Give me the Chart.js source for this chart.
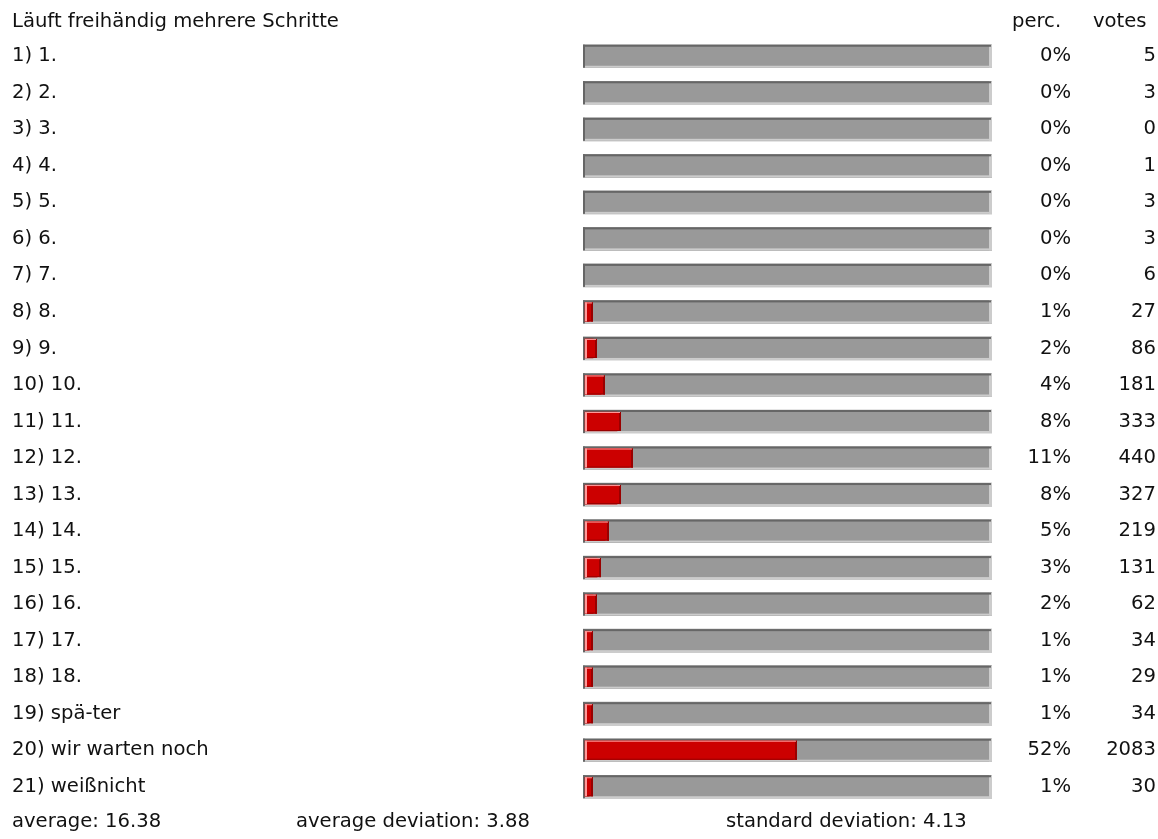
<!DOCTYPE html>
<html>
<head>
<meta charset="utf-8">
<script src="https://cdn.jsdelivr.net/npm/chart.js@4"></script>
<style>
  html, body { margin:0; padding:0; background:#fff; }
  #wrap { position:relative; width:1158px; height:839px; }
</style>
</head>
<body>
<div id="wrap"><canvas id="c"></canvas></div>
<script>
/* ====== dados ====== */
const titulo = "Läuft freihändig mehrere Schritte";
const rotulos = [
  "1) 1.", "2) 2.", "3) 3.", "4) 4.", "5) 5.", "6) 6.", "7) 7.", "8) 8.", "9) 9.",
  "10) 10.", "11) 11.", "12) 12.", "13) 13.", "14) 14.", "15) 15.", "16) 16.",
  "17) 17.", "18) 18.", "19) spä-ter", "20) wir warten noch", "21) weißnicht"
];
const percentuais = [0,0,0,0,0,0,0,1,2,4,8,11,8,5,3,2,1,1,1,52,1];
const votos = [5,3,0,1,3,3,6,27,86,181,333,440,327,219,131,62,34,29,34,2083,30];
const rodape = ["average: 16.38", "average deviation: 3.88", "standard deviation: 4.13"];
const faixa = [-0.5, 101.75]; // trilho cinza atrás das barras

const FONTE = "19.6px 'DejaVu Sans', Verdana, sans-serif";
const COR_TEXTO = "#111111";

/* ====== plugin: bordas em relevo ====== */
const relevo = {
  id: "relevo",
  afterDatasetDraw(chart, args){
    const ctx = chart.ctx;
    const trilho = args.meta.index === 1;
    ctx.save();
    args.meta.data.forEach((el)=>{
      const {x, y, base, height} = el.getProps(["x","y","base","height"], true);
      if(x == null || isNaN(x)) return;
      let l = Math.min(x, base), r = Math.max(x, base);
      if(r - l < 0.5) return;
      const t = y - height/2, b = y + height/2;
      if(trilho){
        ctx.fillStyle = "#cccccc";           // claro: baixo / direita
        ctx.fillRect(l, b-2, r-l, 2);
        ctx.fillRect(r-3, t, 3, b-t);
        ctx.fillStyle = "#666666";           // escuro: topo / esquerda
        ctx.fillRect(l, t, r-l-1, 2);
        ctx.fillRect(l, t, 2, b-t);
      } else {
        // ponta da barra (pequeno acréscimo como no original)
        ctx.fillStyle = "#cc0000";
        ctx.fillRect(r, t, 4, b-t);
        r += 4;
        ctx.fillStyle = "#990000";
        ctx.fillRect(l, b-1, r-l, 1);
        ctx.fillRect(r-2, t, 2, b-t);
        ctx.fillStyle = "#ff9999";
        ctx.fillRect(l, t, r-l-1, 1);
        ctx.fillRect(l, t, 2, b-t);
      }
    });
    ctx.restore();
  }
};

/* ====== plugin: textos (título, colunas, rodapé) ====== */
const textos = {
  id: "textos",
  afterDraw(chart){
    const ctx = chart.ctx;
    const yS = chart.scales.y;
    ctx.save();
    ctx.font = FONTE;
    ctx.fillStyle = COR_TEXTO;
    ctx.textBaseline = "middle";

    ctx.textAlign = "left";
    ctx.fillText(titulo, 12, 22);
    ctx.fillText("perc.", 1012, 22);
    ctx.fillText("votes", 1093, 22);

    rotulos.forEach((_, i)=>{
      const y = yS.getPixelForValue(i);
      ctx.textAlign = "right";
      ctx.fillText(percentuais[i] + "%", 1071, y);
      ctx.fillText(String(votos[i]), 1156, y);
    });

    ctx.textAlign = "left";
    ctx.fillText(rodape[0], 12, 822);
    ctx.fillText(rodape[1], 296, 822);
    ctx.fillText(rodape[2], 726, 822);
    ctx.restore();
  }
};

new Chart(document.getElementById("c"), {
  type: "bar",
  data: {
    labels: rotulos,
    datasets: [
      {
        label: "perc.",
        data: percentuais.map(p => p > 0 ? p : null),
        backgroundColor: "#cc0000",
        barThickness: 19,
        grouped: false,
        order: 1
      },
      {
        label: "trilho",
        data: rotulos.map(()=>faixa),
        backgroundColor: "#999999",
        barThickness: 23,
        grouped: false,
        order: 2
      }
    ]
  },
  options: {
    indexAxis: "y",
    responsive: true,
    maintainAspectRatio: false,
    animation: false,
    layout: { padding: { left: 12, right: 166, top: 38, bottom: 34 } },
    plugins: { legend: { display:false }, tooltip: { enabled:false } },
    scales: {
      x: { display:false, min: faixa[0], max: faixa[1] },
      y: {
        grid: { display:false, drawTicks:false },
        border: { display:false },
        ticks: {
          crossAlign: "far",
          padding: 0,
          color: COR_TEXTO,
          font: { family: "'DejaVu Sans', Verdana, sans-serif", size: 19.6 }
        },
        afterFit(s){ s.width = 571; }
      }
    }
  },
  plugins: [relevo, textos]
});
</script>
</body>
</html>
